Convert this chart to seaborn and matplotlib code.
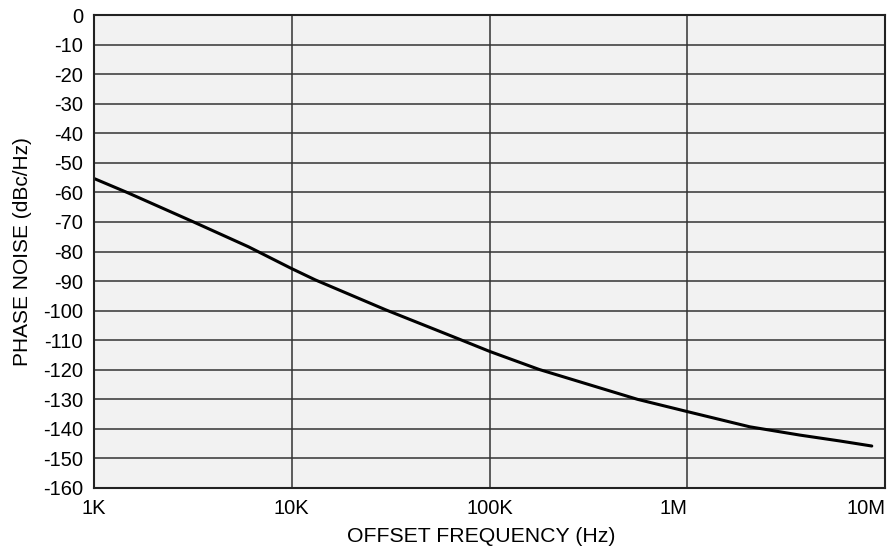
import numpy as np
import matplotlib
matplotlib.use("Agg")
import matplotlib.pyplot as plt
import matplotlib.ticker as ticker
import seaborn as sns
import pandas as pd

# --- Daten ---
freq_hz = [1000, 1479, 3162, 6039, 9931, 13150, 29790, 69980, 100200,
           178200, 559800, 1007000, 2070000, 3707000, 5916000, 8570000]
phase_noise = [-55.3, -60.1, -69.9, -78.4, -85.7, -89.6, -99.7, -109.6, -113.8,
               -119.9, -130.0, -134.2, -139.3, -142.1, -144.1, -145.8]

x_ticks = [1e3, 1e4, 1e5, 1e6, 1e7]
x_labels = ["1K", "10K", "100K", "1M", "10M"]
y_ticks = list(range(-160, 1, 10))

df = pd.DataFrame({"f": freq_hz, "pn": phase_noise})

sns.set_style("white")
plt.rcParams["font.family"] = ["Liberation Sans", "DejaVu Sans"]

fig = plt.figure(figsize=(8.91, 5.48), dpi=100)
ax = fig.add_axes([0.1055, 0.1095, 0.8878, 0.8631])
ax.set_facecolor("#f2f2f2")

sns.lineplot(data=df, x="f", y="pn", ax=ax, color="black", linewidth=2.2)
for ln in ax.get_lines():
    ln.set_solid_joinstyle("round")

ax.set_xscale("log")
ax.set_xlim(1e3, 1e7)
ax.set_ylim(-160, 0)
ax.xaxis.set_major_locator(ticker.FixedLocator(x_ticks))
ax.xaxis.set_minor_locator(ticker.NullLocator())
ax.set_xticklabels(x_labels)
ax.set_yticks(y_ticks)
ax.set_yticklabels([str(v) for v in y_ticks])

# die beiden rechten Beschriftungen sind rechtsbündig
xt = ax.get_xticklabels()
xt[3].set_ha("right")
xt[4].set_ha("right")

ax.grid(True, color="#333333", linewidth=1.1)
ax.set_axisbelow(True)
for s in ax.spines.values():
    s.set_color("#222222")
    s.set_linewidth(1.5)

ax.tick_params(axis="both", length=0, labelsize=14.5, colors="black")
ax.tick_params(axis="x", pad=8)
ax.tick_params(axis="y", pad=8)
ax.set_xlabel("OFFSET FREQUENCY (Hz)", fontsize=15.3, labelpad=3, color="black")
ax.xaxis.set_label_coords(0.49, -0.082)
ax.set_ylabel("PHASE NOISE (dBc/Hz)", fontsize=15, labelpad=8, color="black")

fig.savefig("out.png", dpi=100)
